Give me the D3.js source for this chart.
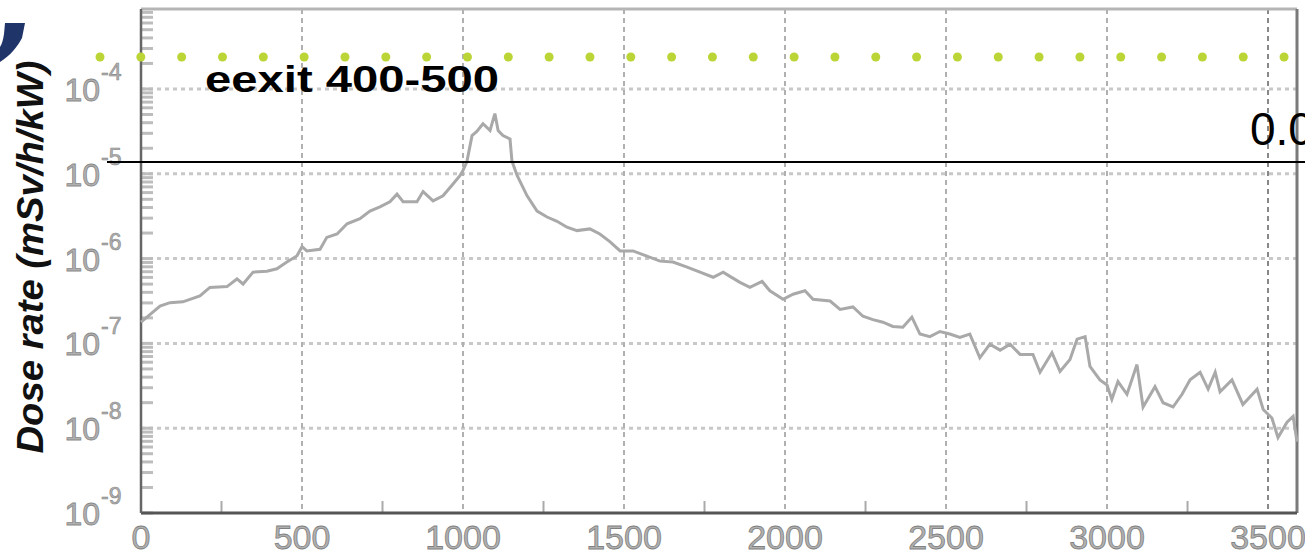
<!DOCTYPE html>
<html>
<head>
<meta charset="utf-8">
<script src="https://cdn.jsdelivr.net/npm/d3@7"></script>
<style>
  html, body { margin: 0; padding: 0; background: #fff; overflow: hidden; }
  svg { display: block; font-family: "Liberation Sans", Arial, sans-serif; }
</style>
</head>
<body>
<div id="chart"></div>
<script>
// distance along the exit (x) and log10 of the dose rate
const distance = [0, 59, 90, 130, 183, 214, 267, 298, 317, 348, 391, 422, 453, 484, 500, 515, 556, 577, 609, 640,
  680, 711, 742, 773, 795, 814, 857, 876, 907, 938, 969, 991, 1000, 1012, 1028, 1043, 1062, 1084, 1099, 1109,
  1124, 1146, 1152, 1168, 1199, 1230, 1261, 1292, 1323, 1354, 1394, 1425, 1456, 1488, 1528, 1571, 1612, 1652, 1696, 1736,
  1777, 1808, 1829, 1860, 1891, 1929, 1953, 1994, 2025, 2062, 2087, 2140, 2171, 2211, 2242, 2273, 2304, 2335, 2366, 2394,
  2419, 2450, 2481, 2512, 2543, 2574, 2605, 2636, 2668, 2699, 2730, 2770, 2792, 2829, 2854, 2885, 2907, 2932, 2947, 2978,
  3000, 3015, 3034, 3062, 3093, 3112, 3149, 3174, 3205, 3233, 3258, 3289, 3314, 3336, 3351, 3388, 3422, 3466, 3485, 3512,
  3531, 3559, 3578, 3590];
const logDose = [-6.75, -6.56, -6.52, -6.51, -6.44, -6.34, -6.33, -6.24, -6.30, -6.16, -6.15, -6.12, -6.04, -5.97, -5.86, -5.91, -5.89, -5.75, -5.71, -5.59,
  -5.53, -5.44, -5.39, -5.33, -5.24, -5.33, -5.33, -5.21, -5.32, -5.26, -5.12, -5.02, -4.96, -4.86, -4.55, -4.50, -4.41, -4.49, -4.29, -4.49,
  -4.55, -4.59, -4.85, -5.02, -5.26, -5.44, -5.51, -5.56, -5.63, -5.67, -5.65, -5.71, -5.80, -5.91, -5.91, -5.97, -6.03, -6.04, -6.10, -6.16,
  -6.22, -6.16, -6.21, -6.28, -6.34, -6.27, -6.38, -6.48, -6.42, -6.38, -6.48, -6.50, -6.60, -6.57, -6.68, -6.72, -6.75, -6.80, -6.81, -6.69,
  -6.89, -6.92, -6.86, -6.89, -6.93, -6.89, -7.17, -7.01, -7.08, -7.01, -7.13, -7.13, -7.34, -7.11, -7.33, -7.19, -6.95, -6.92, -7.27, -7.43,
  -7.49, -7.66, -7.45, -7.60, -7.25, -7.75, -7.51, -7.70, -7.75, -7.60, -7.43, -7.34, -7.54, -7.34, -7.57, -7.43, -7.72, -7.54, -7.78, -7.88,
  -8.11, -7.93, -7.86, -8.16];
const xTicks = [0, 500, 1000, 1500, 2000, 2500, 3000, 3500];
const xMinorTicks = [250, 750, 1250, 1750, 2250, 2750, 3250];
const yExponents = [-9, -8, -7, -6, -5, -4];
const titleText = 'eexit 400-500';
const yTitle = 'Dose rate (mSv/h/kW)';
const cornerText = '0.0';

const width = 1305;
const height = 556;
const plot = { left: 141, right: 1297, top: 9, bottom: 513 };

const svg = d3.select('#chart').append('svg')
  .attr('width', width)
  .attr('height', height);

const x = d3.scaleLinear()
  .domain([0, 3590])
  .range([plot.left, plot.right]);

const y = d3.scaleLog()
  .domain([1e-9, Math.pow(10, -3.057)])
  .range([plot.bottom, plot.top]);

// grid
svg.append('g')
  .selectAll('line')
  .data(yExponents.slice(1))
  .join('line')
  .attr('x1', plot.left).attr('x2', plot.right)
  .attr('y1', d => y(Math.pow(10, d))).attr('y2', d => y(Math.pow(10, d)))
  .attr('stroke', '#c8c8c8')
  .attr('stroke-width', 3)
  .attr('stroke-dasharray', '4,4');

svg.append('g')
  .selectAll('line')
  .data(xTicks.slice(1))
  .join('line')
  .attr('x1', d => x(d)).attr('x2', d => x(d))
  .attr('y1', plot.top).attr('y2', plot.bottom)
  .attr('stroke', d => d === 3500 ? '#888' : '#b0b0b0')
  .attr('stroke-width', 2)
  .attr('stroke-dasharray', '5,4');

// left minor ticks
const minor = [];
yExponents.forEach(e => {
  for (let k = 1; k <= 9; k++) {
    const v = k * Math.pow(10, e);
    if (v <= y.domain()[1]) minor.push(v);
  }
});
svg.append('g')
  .selectAll('line')
  .data(minor)
  .join('line')
  .attr('x1', plot.left)
  .attr('x2', plot.left + 12)
  .attr('y1', d => y(d)).attr('y2', d => y(d))
  .attr('stroke', '#bdbdbd')
  .attr('stroke-width', 3);

// bottom minor ticks
svg.append('g')
  .selectAll('line')
  .data(xMinorTicks)
  .join('line')
  .attr('x1', d => x(d)).attr('x2', d => x(d))
  .attr('y1', plot.bottom).attr('y2', plot.bottom - 12)
  .attr('stroke', '#aaa')
  .attr('stroke-width', 2);

// frame
svg.append('line')
  .attr('x1', plot.left).attr('x2', plot.right)
  .attr('y1', plot.top).attr('y2', plot.top)
  .attr('stroke', '#b5b5b5').attr('stroke-width', 3);
svg.append('line')
  .attr('x1', plot.right).attr('x2', plot.right)
  .attr('y1', plot.top).attr('y2', plot.bottom)
  .attr('stroke', '#7a7a7a').attr('stroke-width', 3);
svg.append('line')
  .attr('x1', plot.left).attr('x2', plot.right)
  .attr('y1', plot.bottom).attr('y2', plot.bottom)
  .attr('stroke', '#555').attr('stroke-width', 3);
svg.append('line')
  .attr('x1', plot.left).attr('x2', plot.left)
  .attr('y1', plot.top).attr('y2', plot.bottom)
  .attr('stroke', '#666').attr('stroke-width', 2.5);

// histogram line (bins are too fine to read one by one, so join the read points)
const line = d3.line()
  .x((d, i) => x(distance[i]))
  .y(d => y(Math.pow(10, d)))
  .curve(d3.curveLinear);

svg.append('path')
  .datum(logDose)
  .attr('d', line)
  .attr('fill', 'none')
  .attr('stroke', '#a9a9a9')
  .attr('stroke-width', 3)
  .attr('stroke-linejoin', 'miter');

// x labels
svg.append('g')
  .selectAll('text')
  .data(xTicks)
  .join('text')
  .attr('x', d => x(d))
  .attr('y', 549)
  .attr('text-anchor', 'middle')
  .attr('font-size', 34)
  .attr('fill', '#b0b0b0')
  .attr('stroke', '#808080')
  .attr('stroke-width', 0.8)
  .text(d => d);

// y labels 10^-n
const yl = svg.append('g')
  .selectAll('g')
  .data(yExponents)
  .join('g')
  .attr('transform', d => `translate(0, ${y(Math.pow(10, d))})`);
yl.append('text')
  .attr('x', 100)
  .attr('y', 12)
  .attr('text-anchor', 'end')
  .attr('font-size', 32)
  .attr('fill', '#b0b0b0')
  .attr('stroke', '#8a8a8a')
  .attr('stroke-width', 0.8)
  .text('10');
yl.append('text')
  .attr('x', 101)
  .attr('y', -9)
  .attr('font-size', 23)
  .attr('fill', '#b0b0b0')
  .attr('stroke', '#8a8a8a')
  .attr('stroke-width', 0.6)
  .text(d => '-' + Math.abs(d));

// y title
svg.append('text')
  .attr('transform', 'translate(43, 257) rotate(-90)')
  .attr('text-anchor', 'middle')
  .attr('font-size', 36)
  .attr('font-weight', 'bold')
  .attr('font-style', 'italic')
  .attr('textLength', 393)
  .attr('lengthAdjust', 'spacingAndGlyphs')
  .attr('fill', '#111')
  .text(yTitle);

// green dotted row
svg.append('g')
  .selectAll('circle')
  .data(d3.range(30))
  .join('circle')
  .attr('cx', i => 100 + i * 40.83)
  .attr('cy', 57)
  .attr('r', 4.5)
  .attr('fill', '#bcd536');

// title
svg.append('text')
  .attr('x', 205)
  .attr('y', 92)
  .attr('font-size', 37)
  .attr('font-weight', 'bold')
  .attr('textLength', 294)
  .attr('lengthAdjust', 'spacingAndGlyphs')
  .attr('fill', '#000')
  .text(titleText);

// black reference line and its label, cut by the right edge as in the source
svg.append('line')
  .attr('x1', 107).attr('x2', width)
  .attr('y1', 162).attr('y2', 162)
  .attr('stroke', '#000').attr('stroke-width', 2);
svg.append('text')
  .attr('x', 1250)
  .attr('y', 145)
  .attr('font-size', 46)
  .attr('fill', '#000')
  .text(cornerText);

// blue logo fragment top-left
svg.append('path')
  .attr('d', 'M0,62 C10,56 18,46 22,38 L25,23 L5,23 L4,34 C3,40 2,44 0,47 Z')
  .attr('fill', '#1f3469');
</script>
</body>
</html>
